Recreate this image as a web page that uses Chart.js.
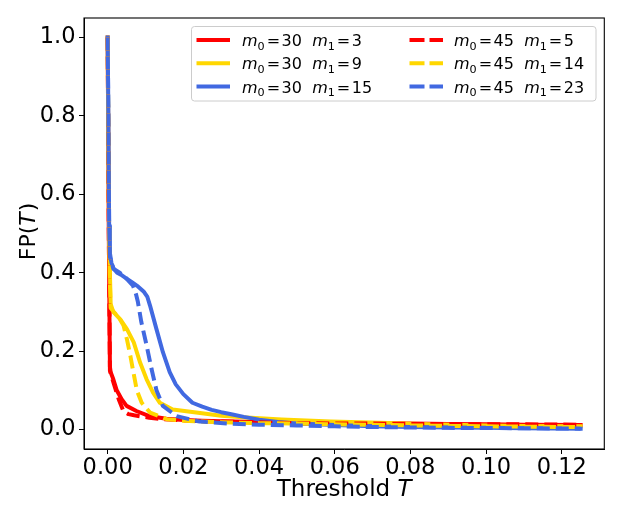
<!DOCTYPE html>
<html><head><meta charset="utf-8">
<script src="https://cdn.jsdelivr.net/npm/chart.js@4/dist/chart.umd.min.js"></script>
<style>html,body{margin:0;padding:0;background:#fff}#wrap{width:623px;height:519px;position:relative}</style>
</head><body><div id="wrap"><canvas id="c"></canvas></div>
<script>
// ---- data ----
const xTicks = [0, 0.02, 0.04, 0.06, 0.08, 0.10, 0.12];
const yTicks = [0, 0.2, 0.4, 0.6, 0.8, 1.0];

const m0Values = ["30", "30", "30", "45", "45", "45"];
const m1Values = ["3", "9", "15", "5", "14", "23"];

const t_30_3  = [0, 0.0003, 0.0006, 0.0008, 0.0015, 0.0024, 0.0037, 0.0050, 0.0076, 0.0110, 0.0155, 0.0200, 0.0250, 0.0300, 0.0400, 0.0500, 0.0600, 0.0700, 0.0800, 0.0900, 0.1000, 0.1100, 0.1250];
const fp_30_3 = [1.0, 0.50, 0.16, 0.146, 0.128, 0.100, 0.077, 0.060, 0.047, 0.034, 0.027, 0.024, 0.022, 0.021, 0.019, 0.017, 0.016, 0.015, 0.015, 0.014, 0.013, 0.012, 0.011];

const t_30_9  = [0, 0.0002, 0.0004, 0.0006, 0.0008, 0.0015, 0.0034, 0.0051, 0.0069, 0.0086, 0.0103, 0.0120, 0.0138, 0.0172, 0.0234, 0.0300, 0.0356, 0.0460, 0.0590, 0.0720, 0.0850, 0.1000, 0.1100, 0.1250];
const fp_30_9 = [1.0, 0.70, 0.46, 0.40, 0.32, 0.300, 0.280, 0.256, 0.222, 0.170, 0.128, 0.094, 0.068, 0.051, 0.043, 0.035, 0.031, 0.025, 0.020, 0.017, 0.013, 0.010, 0.009, 0.008];

const t_30_15  = [0, 0.0002, 0.0004, 0.0006, 0.0010, 0.0016, 0.0025, 0.0035, 0.0050, 0.0065, 0.0080, 0.0095, 0.0105, 0.0112, 0.0129, 0.0146, 0.0164, 0.0180, 0.0200, 0.0224, 0.0250, 0.0275, 0.0300, 0.0330, 0.0360, 0.0400, 0.0450, 0.0500, 0.0600, 0.0700, 0.0800, 0.0900, 0.1000, 0.1100, 0.1250];
const fp_30_15 = [1.0, 0.80, 0.52, 0.45, 0.425, 0.410, 0.400, 0.395, 0.385, 0.375, 0.365, 0.352, 0.338, 0.316, 0.256, 0.197, 0.146, 0.115, 0.090, 0.068, 0.058, 0.050, 0.044, 0.038, 0.032, 0.025, 0.019, 0.015, 0.011, 0.008, 0.006, 0.005, 0.004, 0.003, 0.002];

const t_45_5  = [0, 0.0003, 0.0006, 0.0012, 0.0020, 0.0030, 0.0042, 0.0055, 0.0070, 0.0090, 0.0110, 0.0135, 0.0160, 0.0200, 0.0250, 0.0300, 0.0400, 0.0500, 0.0600, 0.0700, 0.0800, 0.0900, 0.1000, 0.1100, 0.1250];
const fp_45_5 = [1.0, 0.50, 0.15, 0.13, 0.105, 0.075, 0.046, 0.039, 0.036, 0.033, 0.030, 0.027, 0.025, 0.023, 0.021, 0.020, 0.018, 0.016, 0.015, 0.015, 0.014, 0.014, 0.013, 0.013, 0.012];

const t_45_14  = [0, 0.0003, 0.0005, 0.0008, 0.0016, 0.0030, 0.0042, 0.0051, 0.0060, 0.0068, 0.0077, 0.0090, 0.0112, 0.0156, 0.0200, 0.0250, 0.0300, 0.0400, 0.0500, 0.0600, 0.0700, 0.0800, 0.0900, 0.1000, 0.1100, 0.1250];
const fp_45_14 = [1.0, 0.60, 0.40, 0.31, 0.300, 0.285, 0.265, 0.230, 0.188, 0.146, 0.100, 0.068, 0.043, 0.026, 0.022, 0.020, 0.018, 0.016, 0.015, 0.013, 0.012, 0.010, 0.009, 0.008, 0.007, 0.006];

const t_45_23  = [0, 0.0002, 0.0004, 0.0006, 0.0015, 0.0032, 0.0050, 0.0067, 0.0075, 0.0080, 0.0089, 0.0103, 0.0116, 0.0129, 0.0146, 0.0182, 0.0243, 0.0320, 0.0400, 0.0500, 0.0600, 0.0700, 0.0800, 0.0900, 0.1000, 0.1100, 0.1250];
const fp_45_23 = [1.0, 0.80, 0.52, 0.44, 0.410, 0.400, 0.385, 0.367, 0.345, 0.325, 0.274, 0.214, 0.154, 0.100, 0.060, 0.034, 0.020, 0.015, 0.012, 0.010, 0.008, 0.006, 0.005, 0.004, 0.0035, 0.003, 0.002];

const seriesT  = [t_30_3, t_30_9, t_30_15, t_45_5, t_45_14, t_45_23];
const seriesFP = [fp_30_3, fp_30_9, fp_30_15, fp_45_5, fp_45_14, fp_45_23];
const seriesColors = ["#ff0000", "#ffd700", "#4169e1", "#ff0000", "#ffd700", "#4169e1"];
const seriesDashed = [false, false, false, true, true, true];

const FONT = "'DejaVu Sans', Verdana, sans-serif";

function pts(ts, fs) { return ts.map((t, i) => ({ x: t, y: fs[i] })); }

const datasets = seriesT.map((ts, i) => ({
  label: "m0=" + m0Values[i] + " m1=" + m1Values[i],
  data: pts(ts, seriesFP[i]),
  borderColor: seriesColors[i],
  backgroundColor: seriesColors[i],
  borderWidth: 4,
  borderDash: seriesDashed[i] ? [13, 6] : [],
  borderCapStyle: seriesDashed[i] ? "butt" : "square",
  borderJoinStyle: "round",
  pointRadius: 0,
  tension: 0,
  fill: false,
  order: 10 - i
}));

// ---- helpers for mathtext-like strings ----
function drawParts(ctx, parts, x, y, size) {
  let cx = x;
  for (const p of parts) {
    if (p.sp !== undefined) { cx += p.sp; continue; }
    const s = p.sub ? size * 0.7 : size;
    ctx.font = (p.it ? "oblique " : "") + s + "px " + FONT;
    ctx.fillText(p.t, cx, y + (p.sub ? size * 0.22 : 0));
    cx += ctx.measureText(p.t).width;
  }
  return cx - x;
}
function measureParts(ctx, parts, size) {
  let w = 0;
  for (const p of parts) {
    if (p.sp !== undefined) { w += p.sp; continue; }
    const s = p.sub ? size * 0.7 : size;
    ctx.font = (p.it ? "oblique " : "") + s + "px " + FONT;
    w += ctx.measureText(p.t).width;
  }
  return w;
}
function legendParts(m0, m1) {
  return [
    { t: "m", it: true }, { t: "0", sub: true }, { sp: 2 }, { t: "=" }, { sp: 1.5 }, { t: m0 },
    { t: "  " },
    { t: "m", it: true }, { t: "1", sub: true }, { sp: 2 }, { t: "=" }, { sp: 1.5 }, { t: m1 }
  ];
}

const decorPlugin = {
  id: "decor",
  afterDraw(chart) {
    const ctx = chart.ctx;
    const a = chart.chartArea;
    ctx.save();
    // frame
    ctx.strokeStyle = "#000";
    ctx.lineWidth = 1.1;
    ctx.strokeRect(a.left, a.top, a.right - a.left, a.bottom - a.top);

    // legend box
    const bx = 191.5, by = 26.5, bw = 404.5, bh = 74.5, r = 3;
    ctx.beginPath();
    ctx.moveTo(bx + r, by);
    ctx.arcTo(bx + bw, by, bx + bw, by + bh, r);
    ctx.arcTo(bx + bw, by + bh, bx, by + bh, r);
    ctx.arcTo(bx, by + bh, bx, by, r);
    ctx.arcTo(bx, by, bx + bw, by, r);
    ctx.closePath();
    ctx.fillStyle = "rgba(255,255,255,0.8)";
    ctx.fill();
    ctx.strokeStyle = "#cccccc";
    ctx.lineWidth = 1;
    ctx.stroke();

    const rowY = [40, 63.2, 86.6];
    const colLineX = [196.5, 409.5];
    const colTextX = [242, 454];
    chart.data.datasets.forEach((ds, i) => {
      const col = i < 3 ? 0 : 1;
      const row = i % 3;
      const yy = rowY[row];
      ctx.beginPath();
      ctx.strokeStyle = ds.borderColor;
      ctx.lineWidth = 4;
      ctx.lineCap = "butt";
      ctx.setLineDash(seriesDashed[i] ? [15, 5] : []);
      ctx.moveTo(colLineX[col], yy);
      ctx.lineTo(colLineX[col] + 33.5, yy);
      ctx.stroke();
      ctx.setLineDash([]);
      ctx.fillStyle = "#000";
      ctx.textBaseline = "alphabetic";
      ctx.textAlign = "left";
      drawParts(ctx, legendParts(m0Values[i], m1Values[i]), colTextX[col], yy + 6, 16);
    });

    // x title
    ctx.fillStyle = "#000";
    ctx.textBaseline = "alphabetic";
    ctx.textAlign = "left";
    const xt = [{ t: "Threshold " }, { t: "T", it: true }];
    const xw = measureParts(ctx, xt, 23);
    drawParts(ctx, xt, (a.left + a.right) / 2 - xw / 2, 496, 23);

    // y title
    const yt = [{ t: "FP(" }, { t: "T", it: true }, { sp: 1 }, { t: ")" }];
    const yw = measureParts(ctx, yt, 22);
    ctx.translate(35, (a.top + a.bottom) / 2 - 2);
    ctx.rotate(-Math.PI / 2);
    drawParts(ctx, yt, -yw / 2, 0, 22);
    ctx.restore();
  }
};

new Chart(document.getElementById("c"), {
  type: "line",
  data: { datasets },
  options: {
    responsive: true,
    maintainAspectRatio: false,
    animation: false,
    devicePixelRatio: 1,
    layout: { padding: { left: 0, right: 18.7, top: 18, bottom: 0 } },
    plugins: { legend: { display: false }, tooltip: { enabled: false }, title: { display: false } },
    scales: {
      x: {
        type: "linear",
        min: -0.00625,
        max: 0.13125,
        afterBuildTicks(s) { s.ticks = xTicks.map(v => ({ value: v })); },
        afterFit(s) { s.height = 70; },
        ticks: {
          autoSkip: false, maxRotation: 0, padding: 1,
          color: "#000",
          font: { family: FONT, size: 22.5 },
          callback: v => Number(v).toFixed(2)
        },
        grid: { drawOnChartArea: false, drawTicks: true, tickLength: 5, color: "#000", lineWidth: 1 },
        border: { display: true, color: "#000", width: 1 }
      },
      y: {
        type: "linear",
        min: -0.05,
        max: 1.05,
        afterBuildTicks(s) { s.ticks = yTicks.map(v => ({ value: v })); },
        afterFit(s) { s.width = 84; },
        ticks: {
          autoSkip: false, padding: 3.5,
          color: "#000",
          font: { family: FONT, size: 22.5 },
          callback: v => Number(v).toFixed(1)
        },
        grid: { drawOnChartArea: false, drawTicks: true, tickLength: 5, color: "#000", lineWidth: 1 },
        border: { display: true, color: "#000", width: 1 }
      }
    }
  },
  plugins: [decorPlugin]
});
</script>
</body></html>
